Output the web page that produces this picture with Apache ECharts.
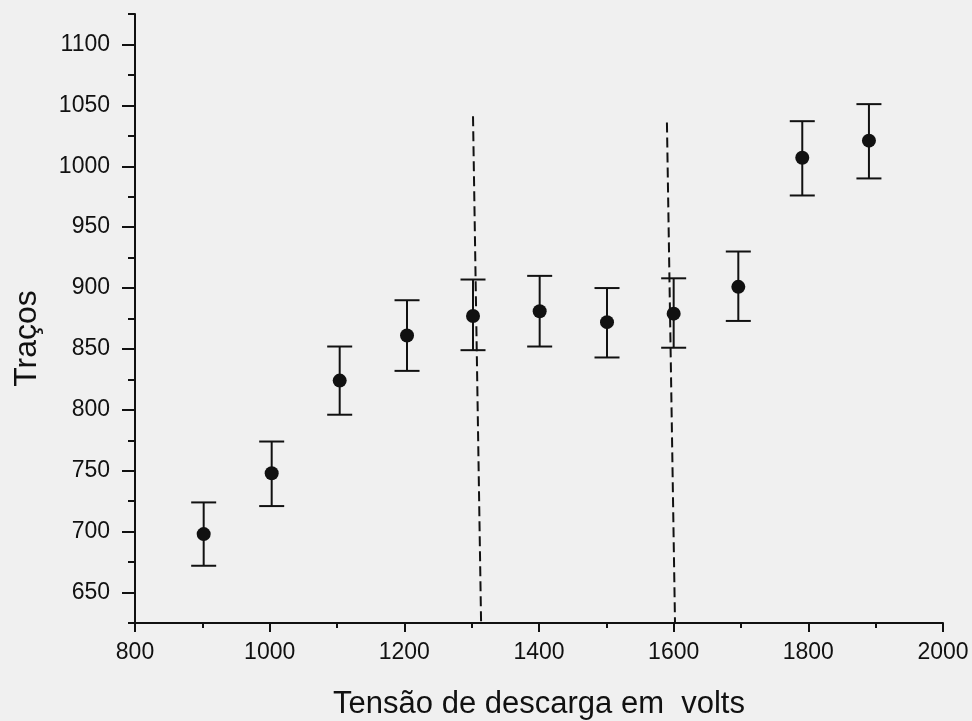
<!DOCTYPE html>
<html>
<head>
<meta charset="utf-8">
<script src="https://cdn.jsdelivr.net/npm/echarts@6/dist/echarts.min.js"></script>
<style>
html,body{margin:0;padding:0;background:#f0f0f0;}
#chart{width:972px;height:721px;}
</style>
</head>
<body>
<div id="chart"></div>
<script>
// Data
var voltages = [902, 1003, 1104, 1204, 1302, 1401, 1501, 1600, 1696, 1791, 1890];
var tracos   = [698, 748, 824, 861, 877, 881, 872, 879, 901, 1007, 1021];
var errLow   = [672, 721, 796, 832, 849, 852, 843, 851, 873, 976, 990];
var errHigh  = [724, 774, 852, 890, 907, 910, 900, 908, 930, 1037, 1051];
var dashLine1 = [[1302, 1041], [1314, 625]];
var dashLine2 = [[1590, 1036], [1602, 625]];
var yMajorTicks = [650, 700, 750, 800, 850, 900, 950, 1000, 1050, 1100];
var yMinorTicks = [625, 675, 725, 775, 825, 875, 925, 975, 1025, 1075, 1125];
var xLabel = 'Tensão de descarga em  volts';
var yLabel = 'Traços';

var errData = voltages.map(function (v, i) { return [v, errLow[i], errHigh[i]]; });
var pts = voltages.map(function (v, i) { return [v, tracos[i]]; });

var chart = echarts.init(document.getElementById('chart'));
var font = 'Liberation Sans, Arial, sans-serif';
var ink = '#111';
var plain = function (v) { return String(v); };

chart.setOption({
  backgroundColor: '#f0f0f0',
  animation: false,
  grid: { left: 135, right: 29, top: 14, bottom: 98, outerBoundsMode: 'none', containLabel: false },
  xAxis: {
    type: 'value', min: 800, max: 2000, interval: 200,
    name: xLabel, nameLocation: 'middle', nameGap: 66,
    nameTextStyle: { fontFamily: font, fontSize: 31, color: ink },
    axisLine: { lineStyle: { color: ink, width: 2 } },
    axisTick: { length: 9, lineStyle: { color: ink, width: 2 } },
    minorTick: { show: true, splitNumber: 2, length: 5, lineStyle: { color: ink, width: 2 } },
    axisLabel: { fontFamily: font, fontSize: 23, color: ink, margin: 18, formatter: plain },
    splitLine: { show: false }
  },
  yAxis: [{
    type: 'value', min: 625, max: 1125,
    name: yLabel, nameLocation: 'middle', nameGap: 92, nameRotate: 90,
    nameTextStyle: { fontFamily: font, fontSize: 32, color: ink, padding: [0, 40, 0, 0] },
    axisLine: { lineStyle: { color: ink, width: 2 } },
    axisTick: { length: 13, customValues: yMajorTicks, lineStyle: { color: ink, width: 2 } },
    axisLabel: { fontFamily: font, fontSize: 23, color: ink, margin: 25, customValues: yMajorTicks, formatter: plain },
    splitLine: { show: false }
  }, {
    type: 'value', min: 625, max: 1125, position: 'left',
    axisLine: { show: false },
    axisTick: { show: true, length: 7, customValues: yMinorTicks, lineStyle: { color: ink, width: 2 } },
    axisLabel: { show: false },
    splitLine: { show: false }
  }],
  series: [{
    type: 'custom',
    data: errData,
    renderItem: function (params, api) {
      var x = api.value(0);
      var lo = api.coord([x, api.value(1)]);
      var hi = api.coord([x, api.value(2)]);
      var hw = 12.5;
      var st = { stroke: ink, lineWidth: 2 };
      return {
        type: 'group',
        children: [
          { type: 'line', shape: { x1: lo[0], y1: lo[1], x2: hi[0], y2: hi[1] }, style: st },
          { type: 'line', shape: { x1: lo[0] - hw, y1: lo[1], x2: lo[0] + hw, y2: lo[1] }, style: st },
          { type: 'line', shape: { x1: hi[0] - hw, y1: hi[1], x2: hi[0] + hw, y2: hi[1] }, style: st }
        ]
      };
    },
    z: 2
  }, {
    type: 'scatter',
    data: pts,
    symbol: 'circle', symbolSize: 14,
    itemStyle: { color: ink, opacity: 1 },
    z: 3
  }, {
    type: 'line', data: dashLine1, symbol: 'none',
    lineStyle: { color: ink, width: 2, type: [10, 5] }, z: 1
  }, {
    type: 'line', data: dashLine2, symbol: 'none',
    lineStyle: { color: ink, width: 2, type: [10, 5] }, z: 1
  }]
});
</script>
</body>
</html>
